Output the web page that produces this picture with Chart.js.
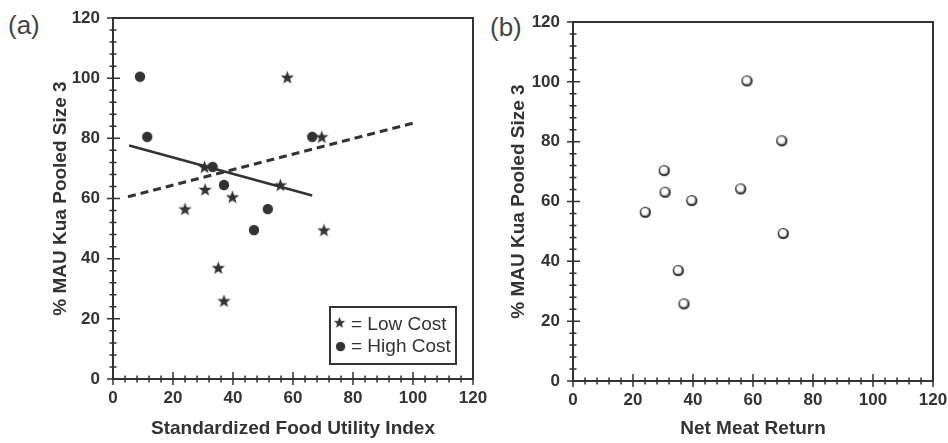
<!DOCTYPE html>
<html>
<head>
<meta charset="utf-8">
<script src="https://cdn.jsdelivr.net/npm/chart.js@4.4.0/dist/chart.umd.min.js"></script>
<style>
  html, body { margin: 0; padding: 0; background: #fff; overflow: hidden; }
  body { width: 948px; height: 443px; position: relative; }
  .panel { position: absolute; top: 0; height: 443px; }
  .tag { position: absolute; font: 26px "Liberation Sans", Arial, sans-serif; color: #444; line-height: 26px; }
</style>
</head>
<body>
<div class="tag" style="left:8px; top:12px;">(a)</div>
<div class="tag" style="left:490px; top:14px;">(b)</div>
<div class="panel" style="left:0; width:491px;"><canvas id="chartA"></canvas></div>
<div class="panel" style="left:491px; width:460px;"><canvas id="chartB"></canvas></div>
<script>
// Panel (a): standardized food utility index vs %MAU
const lowCostFUI = [24, 30.5, 30.7, 39.8, 35.1, 37, 55.8, 58.1, 69.6, 70.3];
const lowCostMAU = [56.5, 70.5, 63, 60.5, 37, 26, 64.5, 100.3, 80.5, 49.5];
const highCostFUI = [9, 11.4, 33.2, 37, 47, 51.6, 66.4];
const highCostMAU = [100.5, 80.5, 70.5, 64.5, 49.5, 56.5, 80.5];

// fitted lines (endpoints)
const lowTrendX = [5, 101];
const lowTrendY = [60.6, 85.3];
const highTrendX = [5.4, 66.4];
const highTrendY = [77.6, 61];

// Panel (b): net meat return vs %MAU
const netMeatReturn = [24.1, 30.4, 30.7, 39.6, 35.1, 37, 55.9, 58, 69.6, 70.1];
const mauB = [56.4, 70.3, 63.1, 60.3, 36.9, 25.8, 64.2, 100.3, 80.3, 49.3];

const axisMin = 0;
const axisMax = 120;
const labelStep = 20;
const minorStep = 4;

const INK = '#333';
Chart.defaults.font.family = '"Liberation Sans", Arial, sans-serif';
Chart.defaults.color = INK;

function zip(xs, ys) {
  return xs.map((x, i) => ({ x: x, y: ys[i] }));
}

// marker images
function makeStar() {
  const c = document.createElement('canvas');
  c.width = 15; c.height = 15;
  const g = c.getContext('2d');
  g.fillStyle = INK;
  g.beginPath();
  for (let i = 0; i < 10; i++) {
    const r = i % 2 === 0 ? 7 : 2.9;
    const a = -Math.PI / 2 + i * Math.PI / 5;
    const px = 7.5 + r * Math.cos(a), py = 8 + r * Math.sin(a);
    if (i === 0) g.moveTo(px, py); else g.lineTo(px, py);
  }
  g.closePath();
  g.fill();
  return c;
}

function makeSphere() {
  const c = document.createElement('canvas');
  c.width = 13; c.height = 13;
  const g = c.getContext('2d');
  g.fillStyle = '#222';
  g.beginPath(); g.arc(6.5, 6.5, 5.6, 0, Math.PI * 2); g.fill();
  g.fillStyle = '#bbb';
  g.beginPath(); g.arc(6.3, 6.2, 4.1, 0, Math.PI * 2); g.fill();
  g.fillStyle = '#fff';
  g.beginPath(); g.arc(5.9, 5.7, 3.3, 0, Math.PI * 2); g.fill();
  return c;
}

function makeDot() {
  const c = document.createElement('canvas');
  c.width = 12; c.height = 12;
  const g = c.getContext('2d');
  g.fillStyle = INK;
  g.beginPath(); g.arc(6, 6, 5.2, 0, Math.PI * 2); g.fill();
  return c;
}

const starImg = makeStar();
const sphereImg = makeSphere();
const dotImg = makeDot();

// box, crossing tick marks and optional legend
const framePlugin = {
  id: 'frame',
  beforeDatasetsDraw(chart, args, opts) {
    const ctx = chart.ctx;
    const ca = chart.chartArea;
    const xs = chart.scales.x, ys = chart.scales.y;
    ctx.save();
    ctx.strokeStyle = INK;
    ctx.lineWidth = 2;
    ctx.strokeRect(ca.left, ca.top, ca.right - ca.left, ca.bottom - ca.top);
    ctx.lineWidth = 1.5;
    ctx.beginPath();
    for (let v = axisMin; v <= axisMax; v += minorStep) {
      const major = v % labelStep === 0;
      const py = ys.getPixelForValue(v);
      const px = xs.getPixelForValue(v);
      if (v > axisMin) {
        ctx.moveTo(ca.left - (major ? 6 : 3.5), py);
        ctx.lineTo(ca.left + (major ? 7 : 3.5), py);
        ctx.moveTo(px, ca.bottom + (major ? 6 : 3.5));
        ctx.lineTo(px, ca.bottom - (major ? 7 : 3.5));
      } else {
        ctx.moveTo(ca.left - 6, py);
        ctx.lineTo(ca.left, py);
        ctx.moveTo(px, ca.bottom + 6);
        ctx.lineTo(px, ca.bottom);
      }
    }
    ctx.stroke();
    ctx.restore();
  },
  afterDraw(chart, args, opts) {
    if (!opts.legend) return;
    const ctx = chart.ctx;
    const ca = chart.chartArea;
    const bx = ca.left + 217, by = ca.bottom - 72, bw = 126, bh = 57;
    ctx.save();
    ctx.fillStyle = '#fff';
    ctx.fillRect(bx, by, bw, bh);
    ctx.strokeStyle = INK;
    ctx.lineWidth = 2;
    ctx.strokeRect(bx, by, bw, bh);
    ctx.drawImage(starImg, bx + 3, by + 9, 13, 13);
    ctx.drawImage(dotImg, bx + 5, by + 34, 11, 11);
    ctx.fillStyle = INK;
    ctx.font = '19px "Liberation Sans", Arial, sans-serif';
    ctx.textBaseline = 'middle';
    ctx.fillText('= Low Cost', bx + 21, by + 18);
    ctx.fillText('= High Cost', bx + 21, by + 40);
    ctx.restore();
  }
};

function axis(title, fitSize, titlePad, isY) {
  return {
    type: 'linear',
    min: axisMin,
    max: axisMax,
    // grid hidden; tickLength only spaces the labels from the axis
    grid: { display: false, drawTicks: true, tickLength: isY ? 11 : 9 },
    border: { display: false },
    ticks: {
      stepSize: minorStep,
      autoSkip: false,
      maxRotation: 0,
      padding: isY ? 2 : 0,
      font: { size: 17, weight: 'bold' },
      color: INK,
      callback: v => (v % labelStep === 0 ? v : '')
    },
    title: {
      display: true,
      text: title,
      color: INK,
      font: { size: 19, weight: 'bold' },
      padding: titlePad
    },
    afterFit(scale) {
      if (isY) scale.width = fitSize; else scale.height = fitSize;
    }
  };
}

function baseOptions(yWidth, yTitlePad, xHeight, padTop, legend, xTitle) {
  return {
    responsive: true,
    maintainAspectRatio: false,
    animation: false,
    layout: { padding: { left: 0, right: 18, top: padTop, bottom: 0 } },
    plugins: {
      legend: { display: false },
      tooltip: { enabled: false },
      frame: { legend: legend }
    },
    scales: {
      x: axis(xTitle, xHeight, { top: 0, bottom: 3 }, false),
      y: axis('% MAU Kua Pooled Size 3', yWidth, { top: yTitlePad, bottom: 0 }, true)
    }
  };
}

new Chart(document.getElementById('chartA'), {
  type: 'scatter',
  data: {
    datasets: [
      {
        label: 'Low Cost',
        data: zip(lowCostFUI, lowCostMAU),
        pointStyle: starImg
      },
      {
        label: 'High Cost',
        data: zip(highCostFUI, highCostMAU),
        pointStyle: dotImg
      },
      {
        label: 'Low Cost fit',
        data: zip(lowTrendX, lowTrendY),
        showLine: true,
        pointRadius: 0,
        borderColor: INK,
        borderWidth: 3,
        borderDash: [8, 5]
      },
      {
        label: 'High Cost fit',
        data: zip(highTrendX, highTrendY),
        showLine: true,
        pointRadius: 0,
        borderColor: INK,
        borderWidth: 2.5
      }
    ]
  },
  options: baseOptions(113, 49, 64, 18, true, 'Standardized Food Utility Index'),
  plugins: [framePlugin]
});

new Chart(document.getElementById('chartB'), {
  type: 'scatter',
  data: {
    datasets: [
      {
        label: 'Net Meat Return',
        data: zip(netMeatReturn, mauB),
        pointStyle: sphereImg
      }
    ]
  },
  options: baseOptions(82, 16, 62, 22, false, 'Net Meat Return'),
  plugins: [framePlugin]
});
</script>
</body>
</html>
